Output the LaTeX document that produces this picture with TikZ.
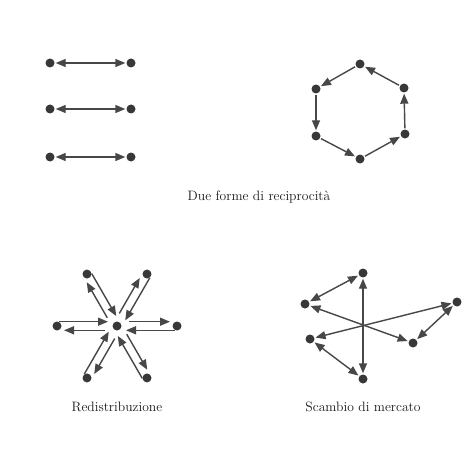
\documentclass[tikz,border=0pt]{standalone}
\usetikzlibrary{arrows.meta,calc}
\definecolor{ink}{HTML}{474747}
\definecolor{dotc}{HTML}{383838}
\tikzset{
  dot/.style={circle,fill=dotc,inner sep=0pt,minimum size=9pt},
  tip/.style={},
  arr/.style={draw=ink,line width=1.4pt,-{Triangle[length=10pt,width=8pt]},shorten >=1pt,shorten <=1pt},
  darr/.style={draw=ink,line width=1.4pt,{Triangle[length=10pt,width=8pt]}-{Triangle[length=10pt,width=8pt]},shorten >=1pt,shorten <=1pt},
  captext/.style={font=\fontsize{13.6}{16}\selectfont,text=black!90}
}
\begin{document}
\begin{tikzpicture}[x=1pt,y=1pt]
\useasboundingbox (0,0) rectangle (471,-468);
% parallel pairs
\node[dot] (a1) at (50,-63) {};
\node[dot] (b1) at (131,-63) {};
\node[dot] (a2) at (50,-109) {};
\node[dot] (b2) at (131,-109) {};
\node[dot] (a3) at (50,-157) {};
\node[dot] (b3) at (131,-157) {};
\draw[darr] (a1) -- (b1);
\draw[darr] (a2) -- (b2);
\draw[darr] (a3) -- (b3);
% hexagon
\node[dot] (h1) at (360,-64) {};
\node[dot] (h2) at (316,-89) {};
\node[dot] (h3) at (316,-136) {};
\node[dot] (h4) at (360,-159) {};
\node[dot] (h5) at (405,-134) {};
\node[dot] (h6) at (404,-88) {};
\draw[arr] (h1) -- (h2);
\draw[arr] (h2) -- (h3);
\draw[arr] (h3) -- (h4);
\draw[arr] (h4) -- (h5);
\draw[arr] (h5) -- (h6);
\draw[arr] (h6) -- (h1);
\node[captext] (c1) at (259,-197) {Due forme di reciprocità};
% redistribution
\node[dot] (r0) at (117,-326) {};
\foreach \k in {0,...,5}{
  \node[dot] (r\k p) at ($(r0)+({60*\k}:60)$) {};
  \begin{scope}[shift={(r0.center)},rotate=60*\k]
    \coordinate (o\k a) at (12,4.3);
    \coordinate (o\k b) at (53,4.3);
    \coordinate (i\k a) at (58,-4.3);
    \coordinate (i\k b) at (9,-4.3);
    \draw[arr,shorten >=0pt,shorten <=0pt] (o\k a) -- (o\k b);
    \draw[arr,shorten >=0pt,shorten <=0pt] (i\k a) -- (i\k b);
  \end{scope}
}
\node[captext] (c2) at (117,-407) {Redistribuzione};
% market exchange
\node[dot] (m1) at (363,-273) {};
\node[dot] (m2) at (363,-379) {};
\node[dot] (m3) at (305,-304) {};
\node[dot] (m4) at (310,-339) {};
\node[dot] (m5) at (457,-302) {};
\node[dot] (m6) at (413,-343) {};
\draw[darr] (m1) -- (m2);
\draw[darr] (m3) -- (m1);
\draw[darr] (m4) -- (m2);
\draw[darr] (m5) -- (m6);
\draw[darr] (m3) -- (m6);
\draw[darr] (m4) -- (m5);
\node[captext] (c3) at (363,-407) {Scambio di mercato};
\end{tikzpicture}
\end{document}
